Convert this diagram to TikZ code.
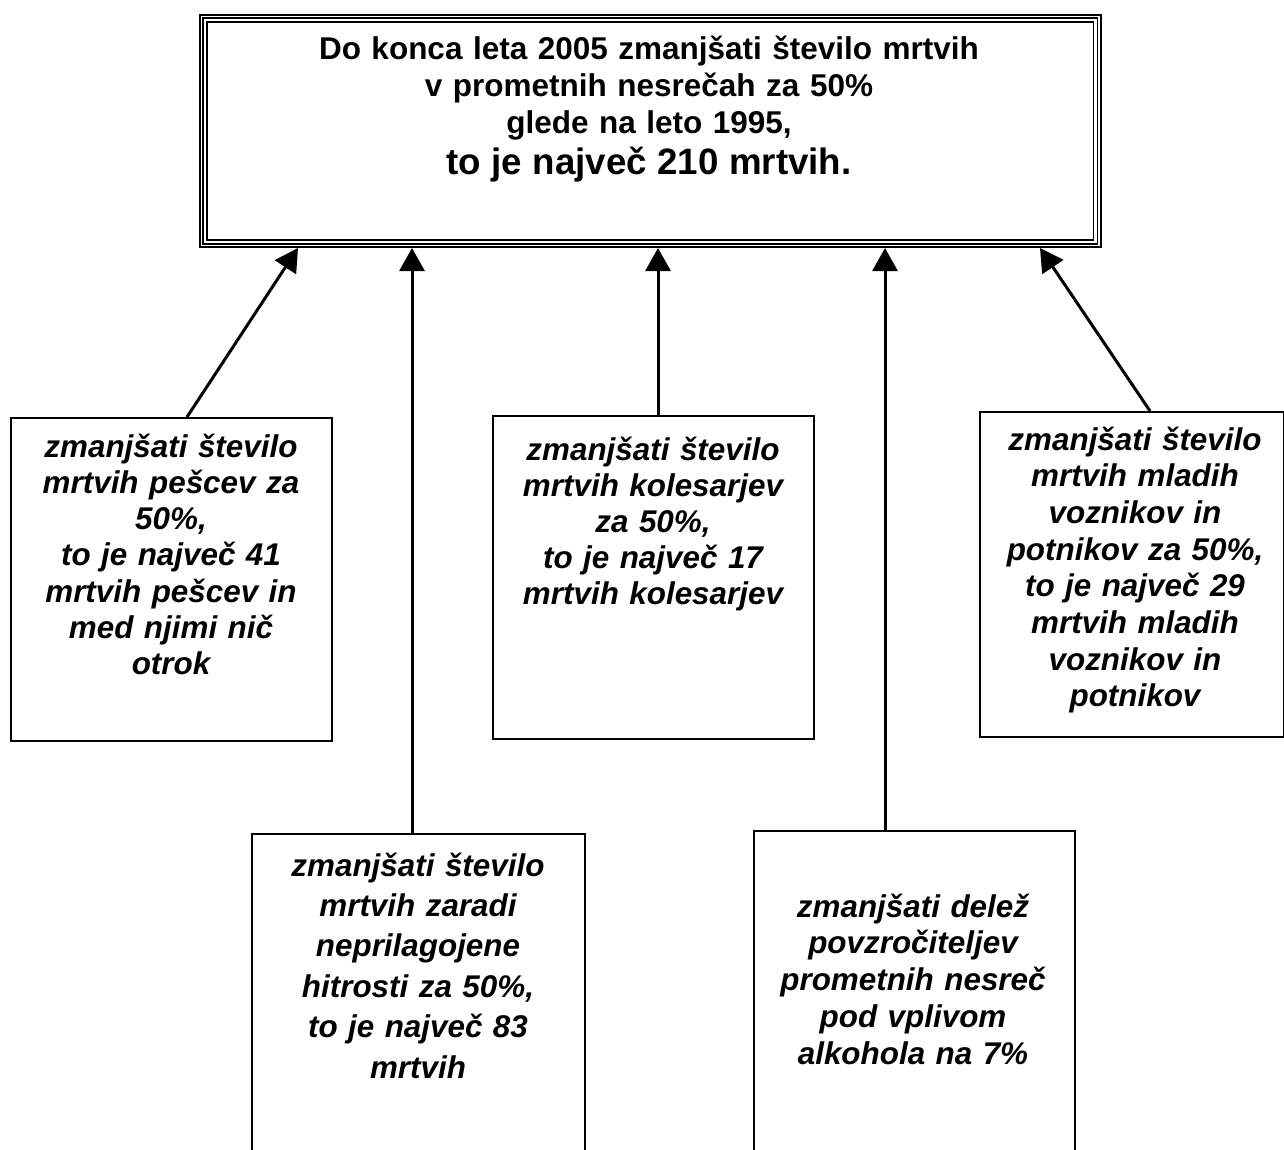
\documentclass[tikz,border=0pt]{standalone}
\usepackage{fontspec}
\setmainfont{Liberation Sans}
\usetikzlibrary{arrows.meta}
\begin{document}
\begin{tikzpicture}[x=1pt,y=-1pt,
  frame/.style={draw, line width=2pt, inner sep=0pt, anchor=north west},
  txt/.style={align=center, inner sep=0pt, anchor=base, text width=320pt},
  boxfont/.style={font=\fontsize{31.4}{#1}\bfseries\itshape\selectfont},
  arr/.style={line width=3pt, -{Triangle[length=23pt,width=25pt]}}]
\useasboundingbox (0,0) rectangle (1284,1149);
\clip (0,0) rectangle (1284,1149);
% goal box (triple frame)
\node[frame, minimum width=900.5pt, minimum height=232pt] (goal) at (199,14) {};
\draw[line width=1.7pt] ([shift={(4,4)}]goal.north west) rectangle ([shift={(-4,-4)}]goal.south east);
\draw[line width=1.9pt] ([shift={(8,8)}]goal.north west) rectangle ([shift={(-8,-8)}]goal.south east);
\node[txt, text width=880pt, font=\fontsize{31.5}{37}\bfseries\selectfont] (t0) at (649,59.5)
  {Do konca leta 2005 zmanjšati število mrtvih\\v prometnih nesrečah za 50\%\\glede na leto 1995,\\[3.5pt]{\fontsize{36.7}{41}\selectfont to je največ 210 mrtvih.}};
% sub-goal boxes
\node[frame, minimum width=321pt, minimum height=323pt] (b1) at (10,417) {};
\node[frame, minimum width=333pt, minimum height=400pt] (b2) at (251,833) {};
\node[frame, minimum width=321pt, minimum height=323pt] (b3) at (492,415) {};
\node[frame, minimum width=304pt, minimum height=325pt] (b4) at (979,411) {};
\node[frame, minimum width=321pt, minimum height=400pt] (b5) at (753,830) {};
% texts
\node[txt, boxfont=36.3] (t1) at (171,457)
  {zmanjšati število\\mrtvih pešcev za\\50\%,\\to je največ 41\\mrtvih pešcev in\\med njimi nič\\otrok};
\node[txt, boxfont=40.4] (t2) at (418,876)
  {zmanjšati število\\mrtvih zaradi\\neprilagojene\\hitrosti za 50\%,\\to je največ 83\\mrtvih};
\node[txt, boxfont=36.2] (t3) at (653,460)
  {zmanjšati število\\mrtvih kolesarjev\\za 50\%,\\to je največ 17\\mrtvih kolesarjev};
\node[txt, boxfont=36.7] (t4) at (1135,450)
  {zmanjšati število\\mrtvih mladih\\voznikov in\\potnikov za 50\%,\\to je največ 29\\mrtvih mladih\\voznikov in\\potnikov};
\node[txt, boxfont=36.75] (t5) at (913,917)
  {zmanjšati delež\\povzročiteljev\\prometnih nesreč\\pod vplivom\\alkohola na 7\%};
% arrows
\draw[arr] ([shift={(177,0)}]b1.north west) -- ([shift={(99,0)}]goal.south west);
\draw[arr] ([shift={(161,0)}]b2.north west) -- ([shift={(213,0)}]goal.south west);
\draw[arr] ([shift={(166,0)}]b3.north west) -- ([shift={(459,0)}]goal.south west);
\draw[arr] ([shift={(132,0)}]b5.north west) -- ([shift={(686,0)}]goal.south west);
\draw[arr] ([shift={(171,0)}]b4.north west) -- ([shift={(841,0)}]goal.south west);
\end{tikzpicture}
\end{document}
